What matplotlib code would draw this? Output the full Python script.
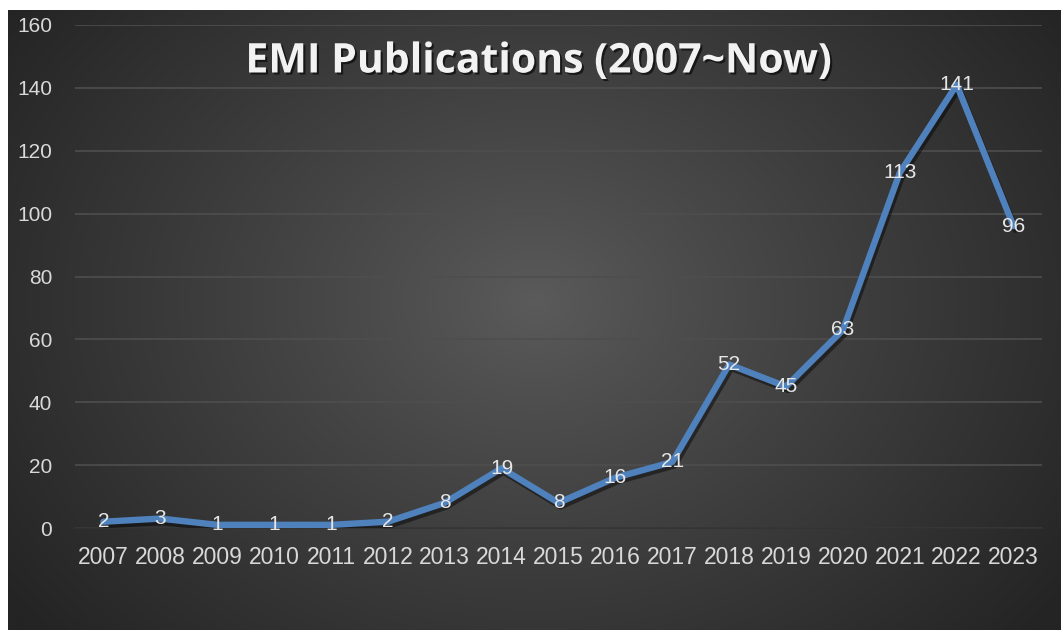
import numpy as np
import matplotlib
matplotlib.use("Agg")
import matplotlib.pyplot as plt
import matplotlib.patheffects as pe

years = ["2007", "2008", "2009", "2010", "2011", "2012", "2013", "2014", "2015",
         "2016", "2017", "2018", "2019", "2020", "2021", "2022", "2023"]
counts = [2, 3, 1, 1, 1, 2, 8, 19, 8, 16, 21, 52, 45, 63, 113, 141, 96]
yticks = [0, 20, 40, 60, 80, 100, 120, 140, 160]
title = "EMI Publications (2007~Now)"

W, H = 1061, 630
fig = plt.figure(figsize=(W / 100, H / 100), dpi=100)
fig.patch.set_facecolor("white")

# background radial gradient panel
bx0, by_top = 8, 10
bg = fig.add_axes([bx0 / W, 0, 1 - bx0 / W, 1 - by_top / H])
bg.set_axis_off()
ny, nx = 310, 527
yy, xx = np.mgrid[0:ny, 0:nx]
cx, cy = nx * 0.50, ny * 0.47
d = np.sqrt(((xx - cx) / (nx * 0.62)) ** 2 + ((yy - cy) / (ny * 0.82)) ** 2)
d = np.clip(d, 0, 1) ** 0.9
inner = np.array([0x5b, 0x5b, 0x5b]) / 255
outer = np.array([0x24, 0x24, 0x24]) / 255
img = inner[None, None, :] * (1 - d[..., None]) + outer[None, None, :] * d[..., None]
bg.imshow(img, aspect="auto", extent=[0, 1, 0, 1], interpolation="bilinear")
bg.set_xlim(0, 1)
bg.set_ylim(0, 1)

ax = fig.add_axes([75 / W, (H - 528) / H, (1042 - 75) / W, (528 - 25) / H])
ax.set_facecolor("none")
x = np.arange(len(years))
ax.plot(x, counts, color="#4f81bd", lw=4.6, solid_joinstyle="round",
        solid_capstyle="round", zorder=3,
        path_effects=[pe.SimpleLineShadow(offset=(1.5, -2.5), shadow_color="black", alpha=0.45),
                      pe.Normal()])
for xi, v in zip(x, counts):
    ax.text(xi, v, str(v), ha="center", va="center", fontsize=15,
            color="#e6e6e6", family="Liberation Sans", zorder=4)

ax.set_xlim(-0.5, len(years) - 0.5)
ax.set_ylim(0, 160)
ax.set_yticks(yticks)
ax.set_xticks(x)
ax.set_xticklabels(years)
ax.grid(axis="y", color="#4e4e4e", lw=1.2)
ax.set_axisbelow(True)
for s in ["top", "right", "left"]:
    ax.spines[s].set_visible(False)
ax.spines["bottom"].set_color("#333333")
ax.spines["bottom"].set_linewidth(1.2)
ax.tick_params(axis="both", length=0, colors="#d9d9d9")
ax.tick_params(axis="y", pad=16.5, labelsize=15)
ax.tick_params(axis="x", pad=13, labelsize=16.5)
for lab in ax.get_xticklabels() + ax.get_yticklabels():
    lab.set_family("Liberation Sans")

fig.text(539 / W, 1 - 62 / H, title, ha="center", va="center", fontsize=29.5,
         fontweight="bold", color="#f2f2f2", family="Open Sans",
         path_effects=[pe.withSimplePatchShadow(offset=(1.5, -1.5), shadow_rgbFace="black", alpha=0.6)])

fig.savefig("out.png", dpi=100)
